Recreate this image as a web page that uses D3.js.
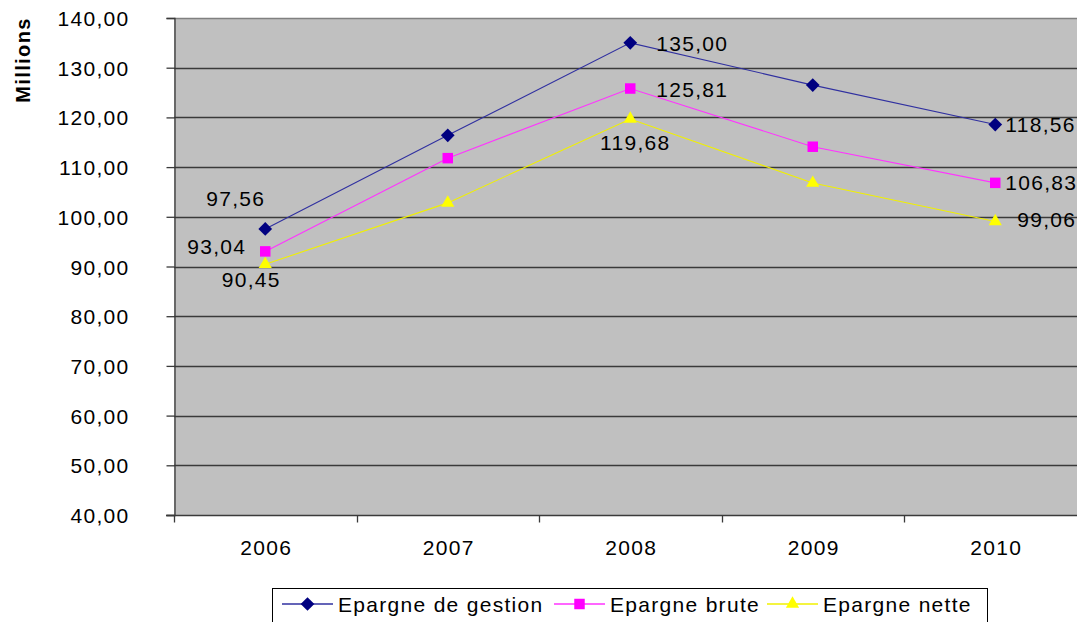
<!DOCTYPE html>
<html>
<head>
<meta charset="utf-8">
<script src="https://cdn.jsdelivr.net/npm/d3@7"></script>
<style>
  html, body { margin: 0; padding: 0; background: #fff; overflow: hidden; }
  svg { display: block; font-family: "Liberation Sans", Arial, sans-serif; }
  text { letter-spacing: 1.3px; }
</style>
</head>
<body>
<svg id="chart" width="1077" height="622"></svg>
<script>
// Years on the category axis
const years = ["2006", "2007", "2008", "2009", "2010"];
// Savings series, in millions
const epargneGestion = [97.56, 116.4, 135.00, 126.5, 118.56];
const epargneBrute   = [93.04, 111.8, 125.81, 114.1, 106.83];
const epargneNette   = [90.45, 102.8, 119.68, 106.8, 99.06];
const seriesNames = ["Epargne de gestion", "Epargne brute", "Epargne nette"];
const yTicks = [40, 50, 60, 70, 80, 90, 100, 110, 120, 130, 140];

const fmt = v => v.toFixed(2).replace(".", ",");

const svg = d3.select("#chart");
const plotL = 174, plotR = 1086.5, plotT = 18, plotB = 515;

const x = d3.scaleBand().domain(years).range([plotL, plotR]).padding(0);
const y = d3.scaleLinear().domain([40, 140]).range([plotB, plotT]);

// Plot background
svg.append("rect")
  .attr("x", plotL).attr("y", plotT)
  .attr("width", plotR - plotL).attr("height", plotB - plotT)
  .attr("fill", "#c0c0c0");

// Horizontal gridlines
svg.append("g").selectAll("line").data(yTicks.slice(1)).join("line")
  .attr("x1", plotL).attr("x2", plotR)
  .attr("y1", d => Math.round(y(d)) + 0.5).attr("y2", d => Math.round(y(d)) + 0.5)
  .attr("stroke", d => d === 140 ? "#808080" : "#3a3a3a")
  .attr("stroke-width", 1.3);

// Y axis
const yAxis = d3.axisLeft(y).tickValues(yTicks).tickSize(8).tickPadding(10).tickFormat(fmt);
const gy = svg.append("g").attr("transform", `translate(${plotL + 0.5},0)`).call(yAxis);
gy.select(".domain").attr("stroke", "#3a3a3a").attr("stroke-width", 1.3);
gy.selectAll(".tick line").attr("stroke", "#3a3a3a").attr("stroke-width", 1.3);
gy.selectAll(".tick text").attr("font-size", 21).attr("fill", "#000")
  .attr("font-family", "Liberation Sans, Arial, sans-serif").attr("x", -45).attr("text-anchor", "end")
  .attr("dy", "0.36em");

// X axis (ticks on category boundaries)
const gx = svg.append("g").attr("transform", `translate(0,${Math.round(plotB) + 0.5})`);
gx.append("line").attr("x1", plotL - 8).attr("x2", plotR)
  .attr("stroke", "#3a3a3a").attr("stroke-width", 1.3);
const bounds = years.map(d => x(d)).concat([plotR]);
gx.selectAll("line.tk").data(bounds).join("line").attr("class", "tk")
  .attr("x1", d => Math.round(d) + 0.5).attr("x2", d => Math.round(d) + 0.5)
  .attr("y1", 0).attr("y2", 7)
  .attr("stroke", "#3a3a3a").attr("stroke-width", 1.3);
gx.selectAll("text").data(years).join("text")
  .attr("x", d => x(d) + x.bandwidth() / 2 + 1)
  .attr("y", 39)
  .attr("text-anchor", "middle")
  .attr("font-size", 21)
  .text(d => d);

// Y axis title
svg.append("text")
  .attr("transform", "translate(30,60) rotate(-90)")
  .attr("text-anchor", "middle")
  .attr("font-size", 20)
  .attr("font-weight", "bold")
  .style("letter-spacing", "1.4px")
  .text("Millions");

const cx = d => x(d) + x.bandwidth() / 2;

const series = [
  { name: seriesNames[0], values: epargneGestion, color: "#000080", line: "#3030a0", marker: "diamond" },
  { name: seriesNames[1], values: epargneBrute,   color: "#ff00ff", line: "#ff33ff", marker: "square" },
  { name: seriesNames[2], values: epargneNette,   color: "#ffff00", line: "#f0f000", marker: "triangle" }
];

const symbolFor = {
  diamond: d3.symbol().type(d3.symbolDiamond2).size(120),
  square: d3.symbol().type(d3.symbolSquare).size(110),
  triangle: d3.symbol().type(d3.symbolTriangle2).size(125)
};

const lineGen = d3.line().x((v, i) => cx(years[i])).y(v => y(v));

series.forEach(s => {
  svg.append("path").datum(s.values)
    .attr("d", lineGen)
    .attr("fill", "none")
    .attr("stroke", s.line)
    .attr("stroke-width", 1.1);
});
series.forEach(s => {
  svg.append("g").selectAll("path").data(s.values).join("path")
    .attr("transform", (v, i) => `translate(${cx(years[i])},${y(v)})`)
    .attr("d", symbolFor[s.marker]())
    .attr("fill", s.color);
});

// Value labels: [series index, year index, anchor, dx, dy]
const labelPlacement = [
  [0, 0, "end", 0, -23], [1, 0, "end", -19, 3], [2, 0, "middle", -14, 23],
  [0, 2, "start", 26, 8], [1, 2, "start", 26, 8], [2, 2, "middle", 5, 31],
  [0, 4, "start", 10, 7], [1, 4, "start", 10, 7], [2, 4, "start", 22, 6]
];
svg.append("g").selectAll("text").data(labelPlacement).join("text")
  .attr("x", d => cx(years[d[1]]) + d[3])
  .attr("y", d => y(series[d[0]].values[d[1]]) + d[4])
  .attr("text-anchor", d => d[2])
  .attr("font-size", 21)
  .text(d => fmt(series[d[0]].values[d[1]]));

// Legend
const lg = svg.append("g");
lg.append("rect").attr("x", 272.5).attr("y", 588.5).attr("width", 715).attr("height", 45)
  .attr("fill", "#fff").attr("stroke", "#000").attr("stroke-width", 1);
const legendX = [282, 554, 767];
series.forEach((s, i) => {
  const g = lg.append("g").attr("transform", `translate(${legendX[i]},604)`);
  g.append("line").attr("x1", 0).attr("x2", 51).attr("stroke", s.line).attr("stroke-width", 1.3);
  g.append("path").attr("transform", "translate(25.5,0)").attr("d", symbolFor[s.marker]()).attr("fill", s.color);
  g.append("text").attr("x", 56).attr("y", 7.5).attr("font-size", 21).text(s.name);
});
</script>
</body>
</html>
